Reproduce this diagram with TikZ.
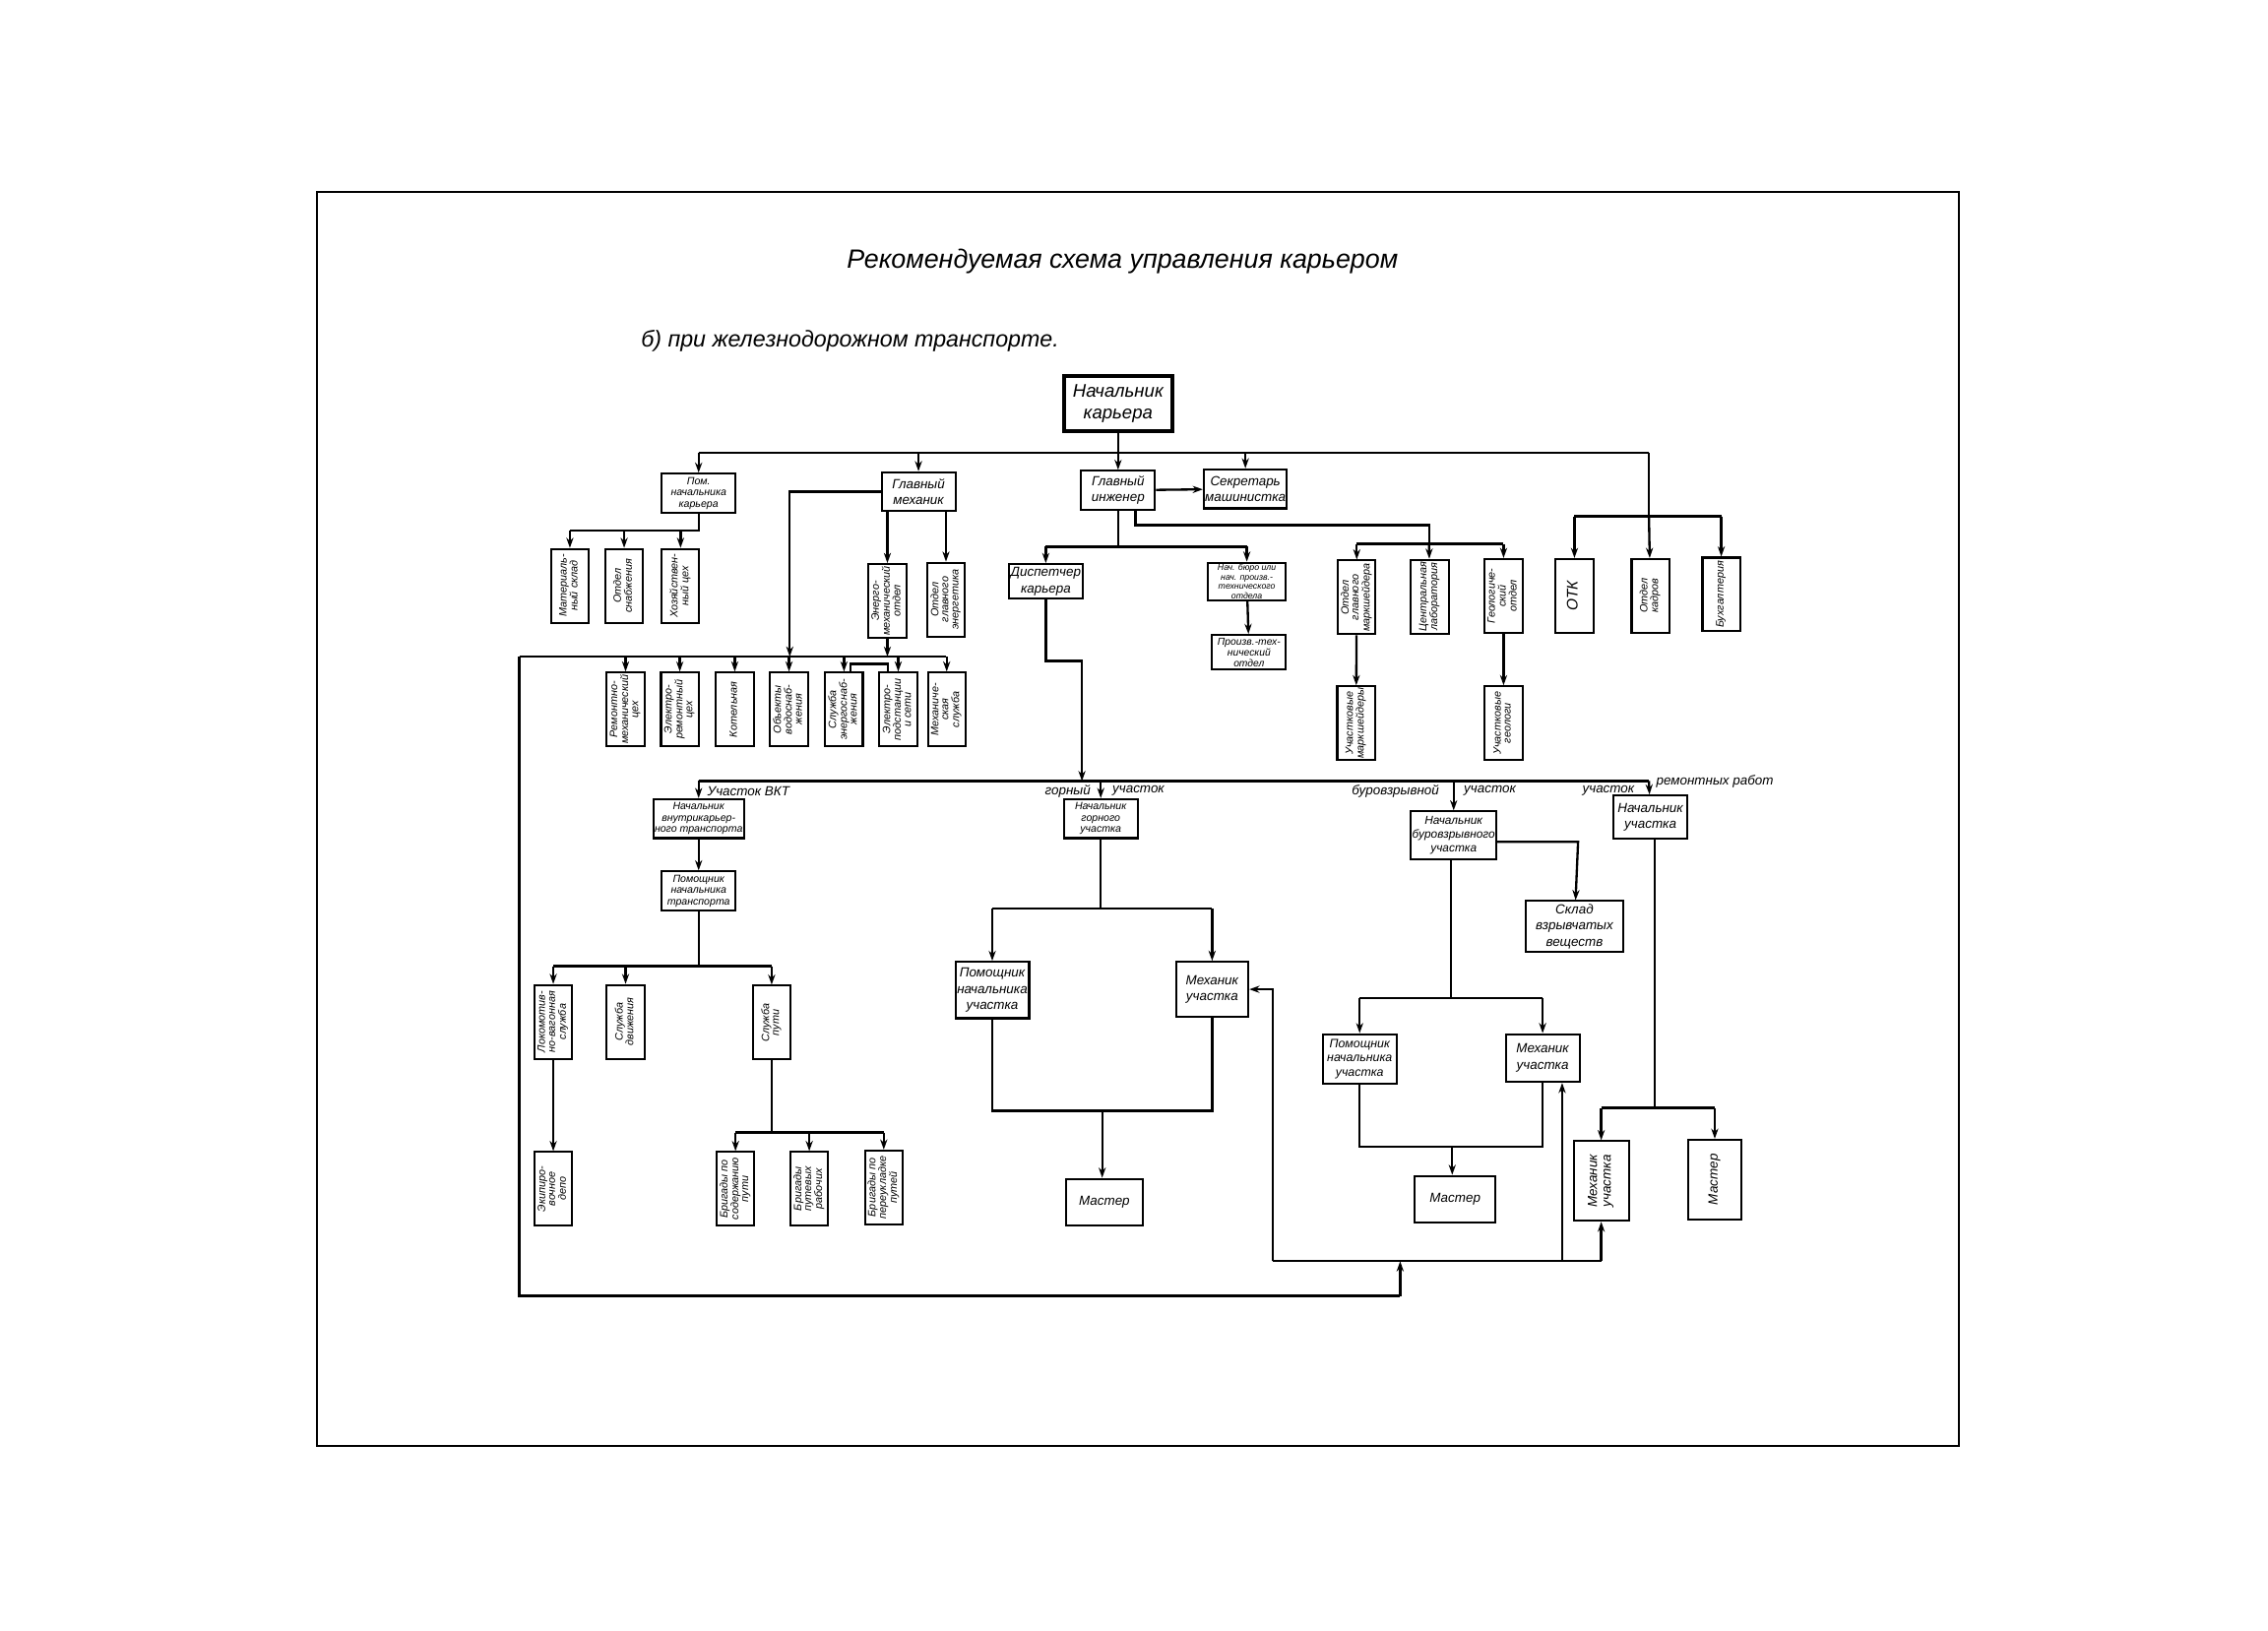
\documentclass[tikz,border=0pt]{standalone}
\usepackage{fontspec}
\setmainfont{Liberation Sans}
\usepackage{graphicx}
\usepackage{tikz}
\usetikzlibrary{arrows.meta,positioning}

\newcommand{\vtext}[1]{\rotatebox{90}{\begin{tabular}{@{}c@{}}#1\end{tabular}}}
\renewcommand{\arraystretch}{0.85}

\begin{document}
\begin{tikzpicture}[x=0.02cm, y=-0.02cm,
    box/.style={rectangle, draw, line width=0.8pt, fill=white, align=center, inner sep=0.5pt,
        minimum width=1.02cm, minimum height=0.54cm, font=\fontsize{5.2}{6.4}\selectfont\itshape},
    box3/.style={box, font=\fontsize{4.1}{4.5}\selectfont\itshape},
    vbox/.style={rectangle, draw, line width=0.8pt, fill=white, inner sep=0.5pt,
        minimum width=0.52cm, minimum height=1.02cm, font=\fontsize{4.2}{4.6}\selectfont\itshape},
    lbl/.style={inner sep=1pt, font=\fontsize{5.2}{6}\selectfont\itshape},
    wire/.style={draw, line width=0.9pt},
    line/.style={draw, line width=0.9pt, -{Stealth[length=4pt,width=2.8pt]}}]

    \useasboundingbox (0,0) rectangle (1568,1127);

    % ====== Frame and title ======
    \draw[line width=0.8pt] (219,133) rectangle (1354,1000);
    \node[font=\fontsize{10.4}{12}\selectfont\itshape] (title) at (776,181)
        {Рекомендуемая схема управления карьером};
    \node[anchor=west, font=\fontsize{9}{11}\selectfont\itshape] (sub) at (437,236)
        {б) при железнодорожном транспорте.};

    % ====== Management ======
    \node[box, line width=1.4pt, minimum width=1.5cm, minimum height=0.76cm,
        font=\fontsize{7.2}{8.6}\selectfont\itshape] (nk) at (773,279) {Начальник\\карьера};
    \node[box3] (pomk) at (483,341) {Пом.\\начальника\\карьера};
    \node[box] (gm)   at (635,340) {Главный\\механик};
    \node[box] (gi)   at (773,339) {Главный\\инженер};
    \node[box] (sekr) at (861,338) {Секретарь\\машинистка};

    \coordinate (busL) at (483,313);
    \coordinate (busR) at (1140,313);
    \path[wire] (busL) -- (busR);
    \path[line] (busL) -- (pomk);
    \path[line] (gm |- busL) -- (gm);
    \path[line] (nk) -- (gi);
    \path[line] (sekr |- busL) -- (sekr);
    \path[line] (gi) -- (sekr);

    % ====== Pom. nachalnika kariera ======
    \node[vbox] (msk) at (394,405)   {\vtext{Материаль-\\ный склад}};
    \node[vbox] (osn) at (431.5,405) {\vtext{Отдел\\снабжения}};
    \node[vbox] (hzc) at (470.5,405) {\vtext{Хозяйствен-\\ный цех}};
    \coordinate (pk1) at (483,367);
    \path[wire] (pomk) -- (pk1) -- (msk |- pk1);
    \path[line] (msk |- pk1) -- (msk);
    \path[line] (osn |- pk1) -- (osn);
    \path[line] (hzc |- pk1) -- (hzc);

    % ====== Glavny mekhanik ======
    \node[vbox] (emo) at (613.5,415.5) {\vtext{Энерго-\\механический\\отдел}};
    \node[vbox] (oge) at (654,414.5)   {\vtext{Отдел\\главного\\энергетика}};
    \path[line] (gm.south -| emo) -- (emo);
    \path[line] (gm.south -| oge) -- (oge);

    \node[vbox] (rm1) at (432.5,490.5) {\vtext{Ремонтно-\\механический\\цех}};
    \node[vbox] (rm2) at (470,490.5)   {\vtext{Электро-\\ремонтный\\цех}};
    \node[vbox] (rm3) at (508,490.5)   {\vtext{Котельная}};
    \node[vbox] (rm4) at (545.5,490.5) {\vtext{Объекты\\водоснаб-\\жения}};
    \node[vbox] (rm5) at (583.5,490.5) {\vtext{Служба\\энергоснаб-\\жения}};
    \node[vbox] (rm6) at (621,490.5)   {\vtext{Электро-\\подстанции\\и сети}};
    \node[vbox] (rm7) at (654.5,490.5) {\vtext{Механиче-\\ская\\служба}};

    \coordinate (ml) at (359,454);
    \coordinate (mr) at (654,454);
    \coordinate (gmw) at (546,340);
    \path[wire] (ml) -- (mr);
    \path[line] (gm.west) -- (gmw) -- (gmw |- ml);
    \path[line] (emo) -- (emo |- ml);
    \foreach \b in {rm1,rm2,rm3,rm4,rm5,rm6,rm7}
        \path[line] (\b |- ml) -- (\b);
    \coordinate (br1) at (588,459);
    \coordinate (br2) at (614,459);
    \path[wire] (br1 |- rm5.north) -- (br1) -- (br2) -- (br2 |- rm6.north);

    % ====== Glavny inzhener ======
    \node[box, minimum height=0.48cm] (disp) at (723,402) {Диспетчер\\карьера};
    \node[box, minimum width=1.08cm, minimum height=0.52cm,
        font=\fontsize{3.4}{3.75}\selectfont\itshape] (nbo) at (862,402)
        {Нач. бюро или\\нач. произв.-\\технического\\отдела};
    \node[box, minimum height=0.48cm, font=\fontsize{4}{4.3}\selectfont\itshape] (pto)
        at (863.5,451) {Произв.-тех-\\нический\\отдел};
    \coordinate (gi1) at (773,378);
    \path[wire] (gi) -- (gi1);
    \path[wire] (disp |- gi1) -- (nbo |- gi1);
    \path[line] (disp |- gi1) -- (disp);
    \path[line] (nbo |- gi1) -- (nbo);
    \path[line] (nbo) -- (pto);

    \node[vbox] (omk)  at (938,413)    {\vtext{Отдел\\главного\\маркшейдера}};
    \node[vbox] (lab)  at (988.5,412.5){\vtext{Центральная\\лаборатория}};
    \node[vbox] (geo)  at (1039.5,412) {\vtext{Геологиче-\\ский\\отдел}};
    \node[vbox] (umk)  at (937.5,500)  {\vtext{Участковые\\маркшейдеры}};
    \node[vbox] (ugeo) at (1039.5,500) {\vtext{Участковые\\геологи}};
    \coordinate (gi2) at (785,363);
    \coordinate (gi3) at (988,363);
    \coordinate (gi4) at (988,376);
    \path[wire] (gi.south -| gi2) -- (gi2) -- (gi3) -- (gi4);
    \path[wire] (omk |- gi4) -- (geo |- gi4);
    \path[line] (omk |- gi4) -- (omk);
    \path[line] (gi4) -- (lab);
    \path[line] (geo |- gi4) -- (geo);
    \path[line] (omk) -- (umk);
    \path[line] (geo) -- (ugeo);

    % ====== Services ======
    \node[vbox, font=\fontsize{6}{7}\selectfont\itshape] (otk) at (1088.5,412) {\vtext{ОТК}};
    \node[vbox] (okad) at (1141,412)   {\vtext{Отдел\\кадров}};
    \node[vbox] (buh)  at (1190,411)   {\vtext{Бухгалтерия}};
    \coordinate (sv) at (1140,357);
    \path[wire] (busR) -- (sv);
    \path[wire] (otk |- sv) -- (buh |- sv);
    \path[line] (sv) -- (okad);
    \path[line] (otk |- sv) -- (otk);
    \path[line] (buh |- sv) -- (buh);

    % ====== Uchastki ======
    \coordinate (b2L) at (483,540);
    \coordinate (b2R) at (1140,540);
    \coordinate (dk1) at (723,457);
    \coordinate (dk)  at (748,540);
    \path[wire] (b2L) -- (b2R);
    \path[line] (disp) -- (dk1) -| (dk);

    % ------ uchastok VKT ------
    \node[lbl, anchor=west] (lvkt) at (487,547) {Участок ВКТ};
    \node[box3] (nvt) at (483,566)
        {Начальник\\внутрикарьер-\\ного транспорта};
    \node[box3] (pnt) at (483,616)
        {Помощник\\начальника\\транспорта};
    \path[line] (b2L) -- (nvt);
    \path[line] (nvt) -- (pnt);

    \node[vbox] (lvs) at (382.5,706.5) {\vtext{Локомотив-\\но-вагонная\\служба}};
    \node[vbox] (sdv) at (432.5,706.5) {\vtext{Служба\\движения}};
    \node[vbox] (spt) at (533.5,707)   {\vtext{Служба\\пути}};
    \node[vbox] (dep) at (382.5,822)   {\vtext{Экипиро-\\вочное\\депо}};
    \node[vbox] (bp1) at (508.5,822)   {\vtext{Бригады по\\содержанию\\пути}};
    \node[vbox] (bp2) at (559.5,822)   {\vtext{Бригады\\путевых\\рабочих}};
    \node[vbox] (bp3) at (611,821)     {\vtext{Бригады по\\переукладке\\путей}};
    \coordinate (t1) at (483,668);
    \coordinate (t2) at (533.5,783);
    \path[wire] (pnt) -- (t1);
    \path[wire] (lvs |- t1) -- (spt |- t1);
    \foreach \b in {lvs,sdv,spt}
        \path[line] (\b |- t1) -- (\b);
    \path[line] (lvs) -- (dep);
    \path[wire] (spt) -- (t2);
    \path[wire] (bp1 |- t2) -- (bp3 |- t2);
    \foreach \b in {bp1,bp2,bp3}
        \path[line] (\b |- t2) -- (\b);

    % ------ gorny uchastok ------
    \node[lbl, anchor=east] (lg1) at (756,547) {горный};
    \node[lbl, anchor=west] (lg2) at (767,547) {участок};
    \node[box3] (ngu) at (761,566) {Начальник\\горного\\участка};
    \node[box, minimum height=0.78cm] (pgu) at (686,684.5)
        {Помощник\\начальника\\участка};
    \node[box, minimum width=1.0cm, minimum height=0.76cm] (mgu) at (838,684)
        {Механик\\участка};
    \node[box, minimum width=1.06cm, minimum height=0.64cm] (mst1) at (763.5,831) {Мастер};
    \coordinate (g1) at (761,628);
    \coordinate (g2) at (762,768);
    \path[line] (ngu |- b2L) -- (ngu);
    \path[wire] (ngu) -- (g1);
    \path[wire] (pgu |- g1) -- (mgu |- g1);
    \path[line] (pgu |- g1) -- (pgu);
    \path[line] (mgu |- g1) -- (mgu);
    \path[wire] (pgu) -- (pgu |- g2) -- (mgu |- g2) -- (mgu);
    \path[line] (g2) -- (g2 |- mst1.north);

    % ------ burovzryvnoy uchastok ------
    \node[lbl, anchor=east] (lb1) at (997,547) {буровзрывной};
    \node[lbl, anchor=west] (lb2) at (1010,547) {участок};
    \node[box, minimum width=1.16cm, minimum height=0.66cm,
        font=\fontsize{4.6}{5.4}\selectfont\itshape] (nbv) at (1005,577.5)
        {Начальник\\буровзрывного\\участка};
    \node[box, minimum width=1.34cm, minimum height=0.7cm] (skl) at (1088.5,640.5)
        {Склад\\взрывчатых\\веществ};
    \node[box, minimum height=0.68cm, font=\fontsize{4.8}{5.6}\selectfont\itshape] (pbv)
        at (940,732) {Помощник\\начальника\\участка};
    \node[box, minimum height=0.66cm] (mbv) at (1066.5,731.5) {Механик\\участка};
    \node[box, minimum width=1.12cm, minimum height=0.64cm] (mst2) at (1006,829) {Мастер};
    \coordinate (v1) at (1003,690);
    \coordinate (v2) at (1004,793);
    \coordinate (sk1) at (1091,582);
    \path[line] (nbv |- b2L) -- (nbv);
    \path[line] (nbv.east |- sk1) -- (sk1) -- (skl);
    \path[wire] (nbv.south -| v1) -- (v1);
    \path[wire] (pbv |- v1) -- (mbv |- v1);
    \path[line] (pbv |- v1) -- (pbv);
    \path[line] (mbv |- v1) -- (mbv);
    \path[wire] (pbv) -- (pbv |- v2) -- (mbv |- v2) -- (mbv);
    \path[line] (v2) -- (v2 |- mst2.north);

    % ------ uchastok remontnykh rabot ------
    \node[lbl, anchor=east] (lr1) at (1132,547) {участок};
    \node[lbl, anchor=west] (lr2) at (1143,540) {ремонтных работ};
    \node[box, minimum height=0.6cm] (nur) at (1141,565) {Начальник\\участка};
    \node[vbox, minimum width=0.76cm, minimum height=1.1cm,
        font=\fontsize{5.2}{6.4}\selectfont\itshape] (mur) at (1107,816.5)
        {\vtext{Механик\\участка}};
    \node[vbox, minimum width=0.74cm, minimum height=1.1cm,
        font=\fontsize{5.2}{6.4}\selectfont\itshape] (mst3) at (1185.5,815.5)
        {\vtext{Мастер}};
    \coordinate (r1) at (1144,766);
    \path[line] (b2R) -- (nur);
    \path[wire] (nur.south -| r1) -- (r1);
    \path[wire] (mur |- r1) -- (mst3 |- r1);
    \path[line] (mur |- r1) -- (mur);
    \path[line] (mst3 |- r1) -- (mst3);

    % ====== Mekhaniki: obratnaya svyaz ======
    \coordinate (lp1) at (359,896);
    \coordinate (lp2) at (968,896);
    \coordinate (lp3) at (968,872);
    \coordinate (bl) at (880,872);
    \coordinate (bm) at (1080,872);
    \coordinate (bn) at (1107,872);
    \path[wire] (ml) -- (lp1) -- (lp2);
    \path[line] (lp2) -- (lp3);
    \path[wire] (bl) -- (bn);
    \path[line] (bl) -- (bl |- mgu.east) -- (mgu.east);
    \path[line] (bm) -- (bm |- mbv.south);
    \path[line] (bn) -- (mur);
\end{tikzpicture}
\end{document}
